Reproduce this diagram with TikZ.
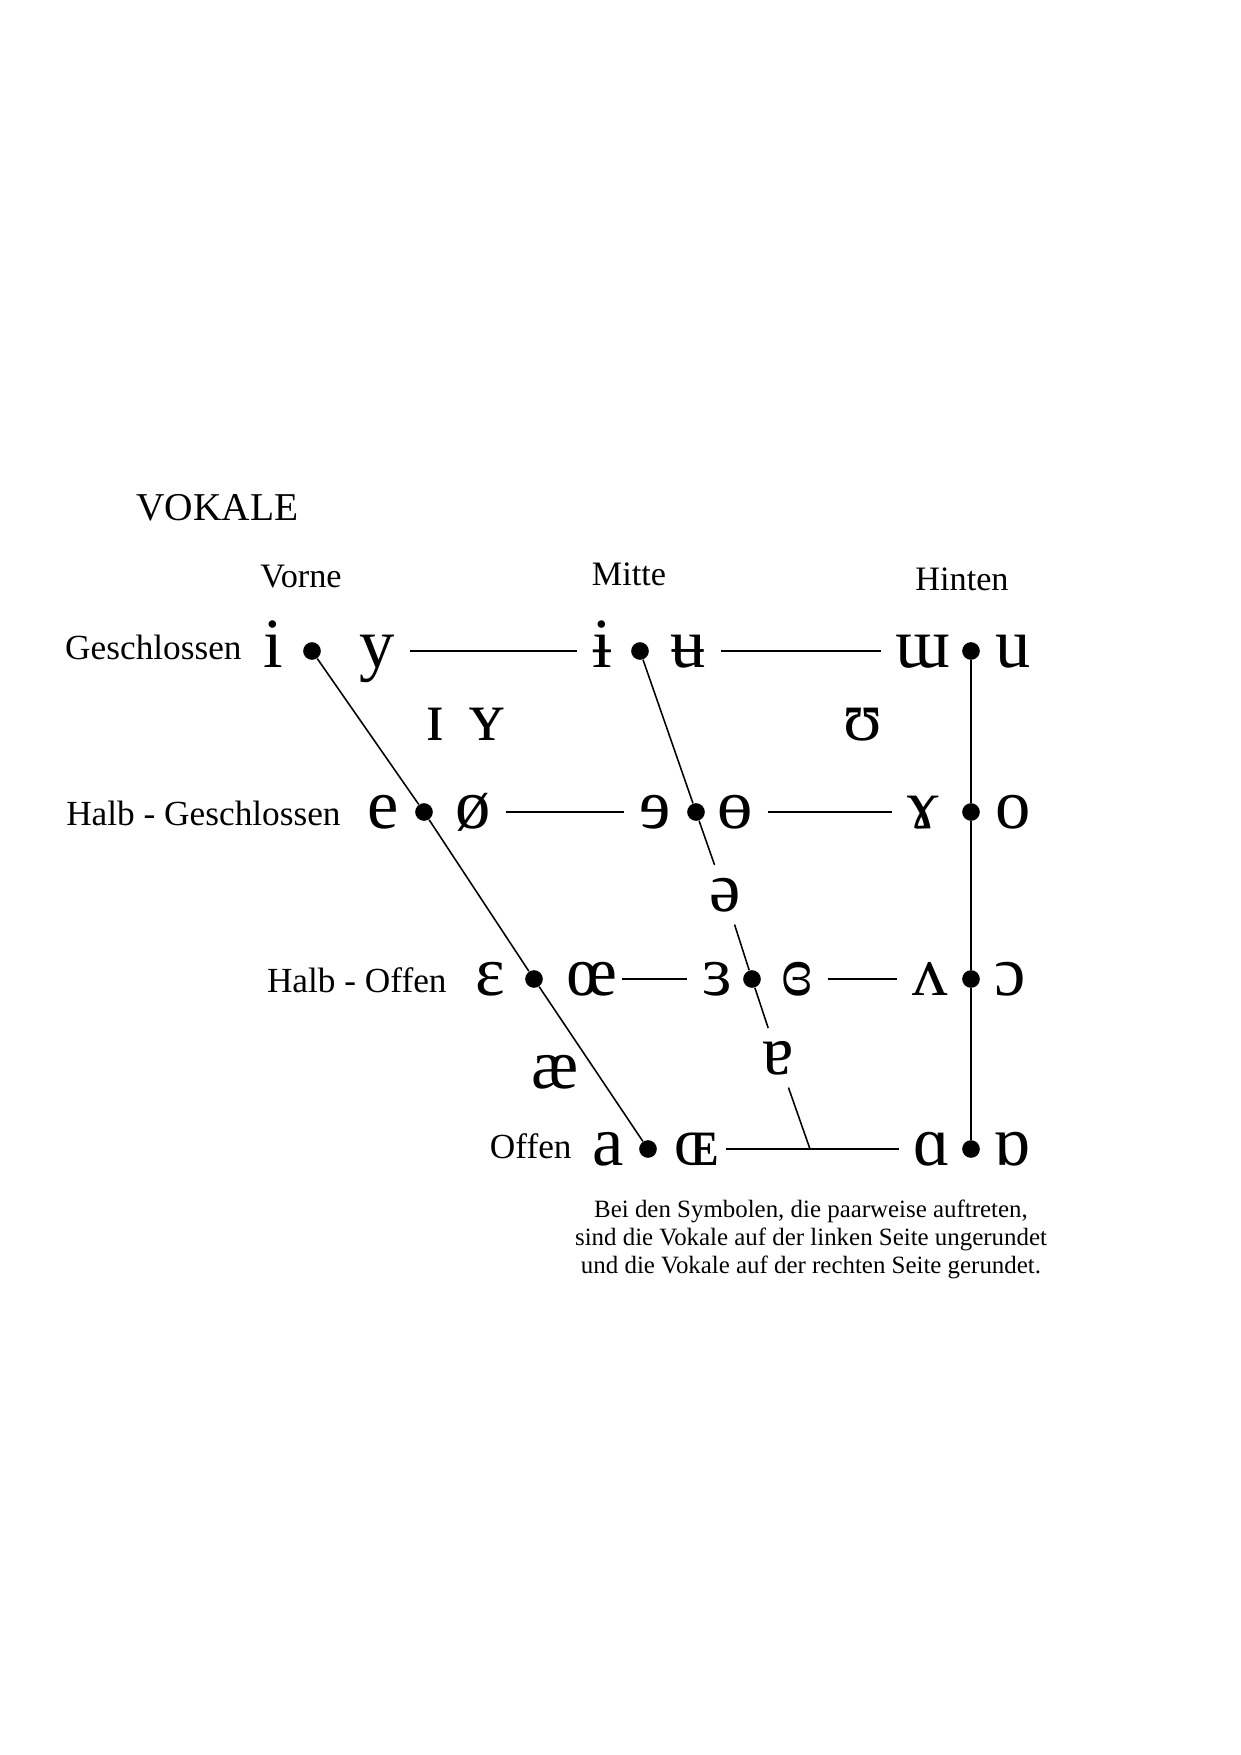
\documentclass[tikz,border=0pt]{standalone}
\usepackage{fontspec}
\setmainfont{Liberation Serif}
\usetikzlibrary{positioning}

\begin{document}
\begin{tikzpicture}[x=0.016935cm, y=-0.016935cm,
    vowel/.style={anchor=base, inner xsep=7pt, inner ysep=0pt,
                  font=\fontsize{34}{40}\selectfont},
    free/.style={vowel, inner sep=6pt},
    side/.style={anchor=base east, inner sep=0pt, font=\fontsize{17}{20}\selectfont},
    head/.style={anchor=base, inner sep=0pt, font=\fontsize{16.5}{20}\selectfont},
    vdot/.style={circle, fill, inner sep=0pt, minimum size=8.5pt},
    link/.style={line width=0.75pt}]
  \useasboundingbox (0,0) rectangle (1240,1755);

  \node[anchor=base west, inner sep=0pt, font=\fontsize{19}{22}\selectfont]
    (title) at (136,520) {VOKALE};
  \node[head] (vorne)  at (301,587) {Vorne};
  \node[head] (mitte)  at (629,585) {Mitte};
  \node[head] (hinten) at (962,590) {Hinten};

  \node[side] (geschl)  at (242,659)  {Geschlossen};
  \node[side] (hgeschl) at (341,825)  {Halb - Geschlossen};
  \node[side] (hoffen)  at (447,992)  {Halb - Offen};
  \node[side] (offen)   at (572,1158) {Offen};

  % dots
  \node[vdot] (f1) at (312,651)  {};
  \node[vdot] (f2) at (424,812)  {};
  \node[vdot] (f3) at (534,979)  {};
  \node[vdot] (f4) at (648,1149) {};
  \node[vdot] (c1) at (640,651)  {};
  \node[vdot] (c2) at (696,812)  {};
  \node[vdot] (c3) at (752,979)  {};
  \node[vdot] (b1) at (971,651)  {};
  \node[vdot] (b2) at (971,812)  {};
  \node[vdot] (b3) at (971,979)  {};
  \node[vdot] (b4) at (971,1149) {};
  \coordinate (j) at (810,1149);

  % vowels
  \node[vowel] (i)     at (273,667) {i};
  \node[vowel] (y)     at (377,667) {y};
  \node[vowel] (ibar)  at (602,667) {ɨ};
  \node[vowel] (ubar)  at (688,667) {ʉ};
  \node[vowel] (mturn) at (923,667) {ɯ};
  \node[vowel] (u)     at (1013,667) {u};

  \node[vowel] (ismall)  at (435,740) {ɪ};
  \node[vowel] (ysmall)  at (487,740) {ʏ};
  \node[vowel] (upsilon) at (863,740) {ʊ};

  \node[vowel] (e)     at (383,828) {e};
  \node[vowel] (oslash) at (473,828) {ø};
  \node[vowel] (erev)  at (655,828) {ɘ};
  \node[vowel] (obar)  at (735,828) {ɵ};
  \node[vowel] (gamma) at (923,828) {ɤ};
  \node[vowel] (o)     at (1013,828) {o};

  \node[free] (schwa) at (725,911) {ə};

  \node[vowel] (eps)    at (490,995) {ɛ};
  \node[vowel] (oe)     at (592,995) {œ};
  \node[vowel] (epsrev) at (717,995) {ɜ};
  \node[vowel] (epscl)  at (797,995) {ɞ};
  \node[vowel] (vturn)  at (930,995) {ʌ};
  \node[vowel] (oopen)  at (1010,995) {ɔ};

  \node[vowel] (ae)    at (555,1088) {æ};
  \node[free]  (aturn) at (778,1074) {ɐ};

  \node[vowel] (a)      at (608,1165) {a};
  \node[vowel] (OE)     at (697,1165) {ɶ};
  \node[vowel] (alpha)  at (932,1165) {ɑ};
  \node[vowel] (alphat) at (1012,1165) {ɒ};

  % lines
  \draw[link] (f1) -- (f2) -- (f3) -- (f4);
  \draw[link] (c1) -- (c2) -- (schwa);
  \draw[link] (schwa) -- (c3) -- (aturn);
  \draw[link] (aturn) -- (j);
  \draw[link] (b1) -- (b2) -- (b3) -- (b4);

  \draw[link] (y.east |- f1)      -- (ibar.west |- c1);
  \draw[link] (ubar.east |- c1)   -- (mturn.west |- b1);
  \draw[link] (oslash.east |- f2) -- (erev.west |- c2);
  \draw[link] (obar.east |- c2)   -- (gamma.west |- b2);
  \draw[link, shorten <=-5pt] (oe.east |- f3) -- (epsrev.west |- c3);
  \draw[link] (epscl.east |- c3)  -- (vturn.west |- b3);
  \draw[link, shorten <=-4pt] (OE.east |- f4) -- (j) -- (alpha.west |- b4);

  \node[anchor=north, align=center, inner sep=0pt,
        font=\fontsize{12}{13.5}\selectfont] (note) at (811,1200)
    {Bei den Symbolen, die paarweise auftreten,\\
     sind die Vokale auf der linken Seite ungerundet\\
     und die Vokale auf der rechten Seite gerundet.};
\end{tikzpicture}
\end{document}
